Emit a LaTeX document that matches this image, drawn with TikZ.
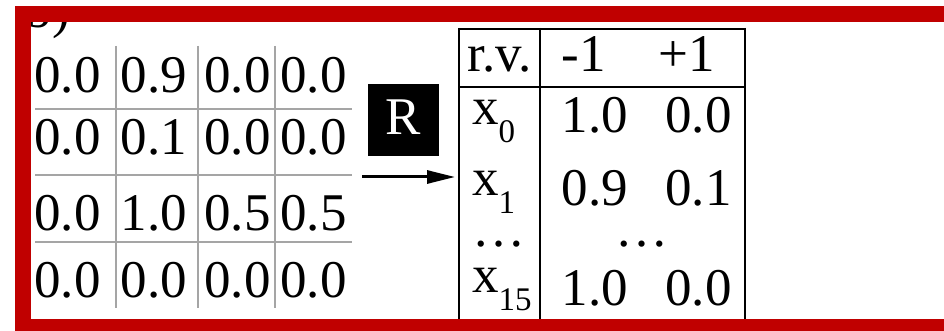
\documentclass[tikz,border=0pt]{standalone}
\usepackage{fontspec}
\newfontfamily\tmsfont{LiberationSerif-Regular.ttf}
\usetikzlibrary{arrows.meta}
\definecolor{framered}{RGB}{192,0,0}
\definecolor{gridgray}{RGB}{165,165,165}
\tikzset{
  big/.style={font=\tmsfont\fontsize{53pt}{53pt}\selectfont, inner sep=0pt, anchor=base},
  gridline/.style={draw=gridgray, line width=2pt},
  tabline/.style={draw=black, line width=2pt},
  rbox/.style={fill=black, text=white, font=\tmsfont\fontsize{53pt}{53pt}\selectfont, inner sep=0pt,
    anchor=base, text height=51pt, text depth=21pt, minimum width=71pt},
  arrowline/.style={draw=black, line width=3pt, -{Triangle[length=28pt,width=13pt]}},
}
\newcommand{\xsub}[1]{x\raisebox{-18pt}{\fontsize{33pt}{33pt}\selectfont #1}}
\begin{document}
\begin{tikzpicture}[x=1pt,y=-1pt]
\fill[white] (0,0) rectangle (944,331);
\useasboundingbox (0,0) rectangle (944,331);
% partial label (mostly hidden by the frame)
\begin{scope}
\clip (30.5,22.5) rectangle (200,60);
\node[big, anchor=base west] (lbl) at (25.5,28) {b)};
\end{scope}
% left grid
\foreach \yy in {109,175,242} \draw[gridline] (35,\yy) -- (352,\yy);
\foreach \xx in {116,198,275} \draw[gridline] (\xx,46) -- (\xx,308);
\node[big] (g11) at (67.5,93) {0.0};
\node[big] (g12) at (154,93) {0.9};
\node[big] (g13) at (237.5,93) {0.0};
\node[big] (g14) at (313.5,93) {0.0};
\node[big] (g21) at (67.5,155) {0.0};
\node[big] (g22) at (154,155) {0.1};
\node[big] (g23) at (237.5,155) {0.0};
\node[big] (g24) at (313.5,155) {0.0};
\node[big] (g31) at (67.5,230) {0.0};
\node[big] (g32) at (154,230) {1.0};
\node[big] (g33) at (237.5,230) {0.5};
\node[big] (g34) at (313.5,230) {0.5};
\node[big] (g41) at (67.5,297) {0.0};
\node[big] (g42) at (154,297) {0.0};
\node[big] (g43) at (237.5,297) {0.0};
\node[big] (g44) at (313.5,297) {0.0};
% R box and arrow
\node[rbox] (R) at (403.5,135) {R};
\coordinate (arrS) at (362,177);
\coordinate (arrE) at (455,177);
\draw[arrowline] (arrS) -- (arrE);
% right table
\draw[tabline] (459,29) -- (745,29);
\draw[tabline] (459,87) -- (745,87);
\foreach \xx in {459,540,745} \draw[tabline] (\xx,28) -- (\xx,322);
\node[big] (hrv) at (499.5,72) {r.v.};
\node[big] (hm) at (584,72) {-1};
\node[big] (hp) at (686.5,72) {+1};
\node[big, anchor=base west] (x0) at (472,125) {\xsub{0}};
\node[big] (a0) at (595,133) {1.0};
\node[big] (b0) at (698.5,133) {0.0};
\node[big, anchor=base west] (x1) at (472,195) {\xsub{1}};
\node[big] (a1) at (595,205) {0.9};
\node[big] (b1) at (698.5,205) {0.1};
\node[big] (d1) at (498.5,246) {\ldots};
\node[big] (d2) at (641.5,246) {\ldots};
\node[big, anchor=base west] (x15) at (472,292) {\xsub{15}};
\node[big] (a15) at (595,305) {1.0};
\node[big] (b15) at (698.5,305) {0.0};
% red frame
\fill[framered] (14.5,6.5) rectangle (944,22.5);
\fill[framered] (14.5,6.5) rectangle (30.5,331);
\fill[framered] (14.5,319) rectangle (944,331);
\end{tikzpicture}
\end{document}
